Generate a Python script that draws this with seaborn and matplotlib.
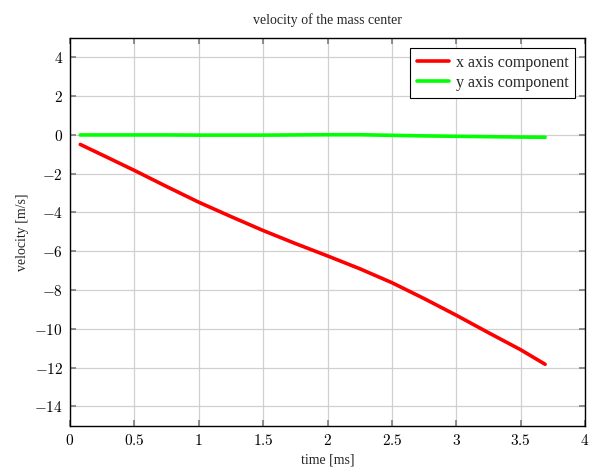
import matplotlib
matplotlib.use("Agg")
import matplotlib.pyplot as plt
import seaborn as sns
import pandas as pd

time_ms = [0.08, 0.25, 0.5, 0.75, 1.0, 1.25, 1.5, 1.75, 2.0, 2.25, 2.5, 2.75, 3.0, 3.25, 3.5, 3.69]
vx = [-0.49, -1.03, -1.83, -2.66, -3.47, -4.21, -4.93, -5.6, -6.24, -6.9, -7.62, -8.44, -9.3, -10.2, -11.08, -11.83]
vy = [0.0, 0.0, 0.0, 0.0, -0.01, -0.01, -0.01, 0.0, 0.01, 0.01, -0.02, -0.05, -0.07, -0.09, -0.11, -0.12]

x_ticks = [0, 0.5, 1, 1.5, 2, 2.5, 3, 3.5, 4]
y_ticks = [-14, -12, -10, -8, -6, -4, -2, 0, 2, 4]

sns.set_theme(style="whitegrid")
plt.rcParams["font.family"] = ["Liberation Serif", "DejaVu Serif"]
plt.rcParams["mathtext.fontset"] = "cm"

df = pd.DataFrame({
    "time": time_ms * 2,
    "velocity": vx + vy,
    "series": ["x axis component"] * len(time_ms) + ["y axis component"] * len(time_ms),
})

fig = plt.figure(figsize=(5.9, 4.72), dpi=100)
ax = fig.add_axes([0.1186, 0.098, 0.873, 0.8215])
sns.lineplot(data=df, x="time", y="velocity", hue="series",
             palette={"x axis component": "#ff0000", "y axis component": "#00ff00"},
             linewidth=2.6, ax=ax)

ax.set_xlim(0, 4)
ax.set_ylim(-15, 5)
ax.set_xticks(x_ticks)
ax.set_yticks(y_ticks)
ax.set_xticklabels([f"${t:g}$" for t in x_ticks], fontsize=11)
ax.set_yticklabels([f"${t:g}$" for t in y_ticks], fontsize=11)
ax.grid(True, color="#d0d0d0", linewidth=0.9)
ax.tick_params(direction="in", length=4, color="#808080", top=True, right=True,
               bottom=True, left=True, pad=5, labelcolor="black")
for s in ax.spines.values():
    s.set_color("black")
    s.set_linewidth(1.0)
    s.set_visible(True)

ax.set_title("velocity of the mass center", fontsize=10, pad=10)
ax.set_xlabel("time [ms]", fontsize=10, labelpad=4)
ax.set_ylabel("velocity [m/s]", fontsize=10, labelpad=4)

leg = ax.legend(loc="upper right", fontsize=11.5, frameon=True, fancybox=False,
                edgecolor="black", framealpha=1, handlelength=2.0,
                borderaxespad=0.6, labelspacing=0.25, borderpad=0.45, handletextpad=0.4)
leg.get_frame().set_linewidth(0.8)

fig.savefig("out.png", dpi=100)
